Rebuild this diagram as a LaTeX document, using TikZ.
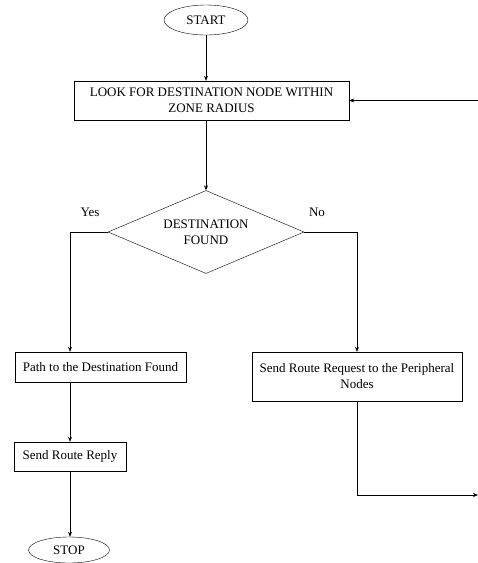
\documentclass[tikz,border=0pt]{standalone}
\usepackage{fontspec}
\setmainfont{Liberation Serif}
\usetikzlibrary{positioning, arrows.meta, shapes.geometric}

\begin{document}
\begin{tikzpicture}[
    x=1pt, y=-1pt,
    box/.style={draw, minimum height=30pt, font=\fontsize{13}{16}\selectfont, align=center, inner sep=2pt},
    term/.style={draw, ellipse, font=\fontsize{13}{16}\selectfont, inner sep=0pt},
    decision/.style={draw, diamond, shape aspect=2.36, minimum width=196pt, minimum height=83pt, font=\fontsize{13}{16}\selectfont, align=center, inner sep=0pt},
    lbl/.style={font=\fontsize{13}{16}\selectfont},
    arr/.style={-{Stealth[length=5pt, width=4pt]}, semithick},
]
\useasboundingbox (0,0) rectangle (478,563);

% === Top: start and search ===
\node[term, minimum width=84pt, minimum height=30pt] at (206, 20) (start) {START};
\node[box, minimum width=275pt, minimum height=39pt] at (211.5, 100.5) (look) {LOOK FOR DESTINATION NODE WITHIN\\ZONE RADIUS};
\coordinate (loop-in) at (478, 100.5);

\draw[arr] (start) -- (look.north -| start);
\draw[arr] (loop-in) -- (look.east);

% === Decision ===
\node[decision] at (206, 232) (found) {DESTINATION\\FOUND};
\node[lbl] at (90, 212) (yes) {Yes};
\node[lbl] at (317, 212) (no) {No};

\draw[arr] (look.south -| found) -- (found.north);

% === Yes branch (left) ===
\node[box, minimum width=171pt] at (100.5, 367) (path) {Path to the Destination Found};
\node[box, minimum width=112pt, minimum height=29pt] at (70, 456.5) (reply) {Send Route Reply};
\node[term, minimum width=81pt, minimum height=26pt] at (69, 550) (stop) {STOP};

\draw[arr] (found.west) -| (reply.north |- path.north);
\draw[arr] (reply.north |- path.south) -- (reply.north);
\draw[arr] (reply.south) -- (stop.north -| reply.south);

% === No branch (right) ===
\node[box, minimum width=210pt, minimum height=49pt] at (357, 376.5) (req) {Send Route Request to the Peripheral\\Nodes};
\coordinate (loop-out) at (478, 495);

\draw[arr] (found.east) -| (req.north);
\draw[arr] (req.south) |- (loop-out);

\end{tikzpicture}
\end{document}
